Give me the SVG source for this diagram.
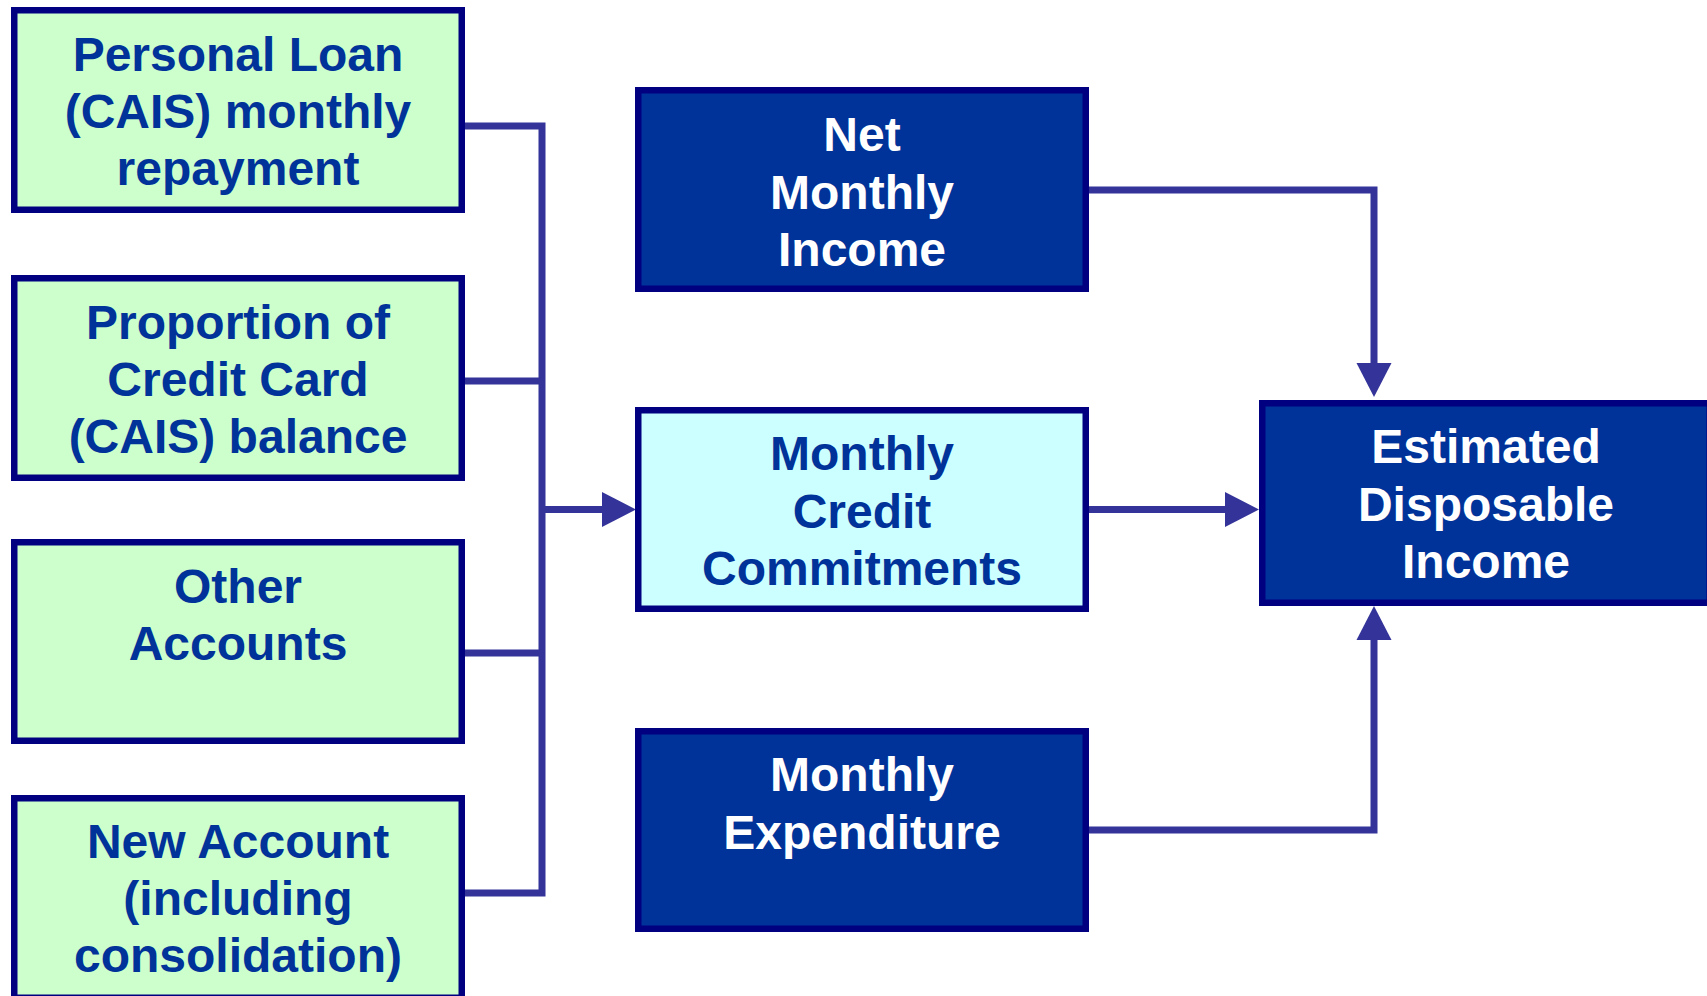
<svg xmlns="http://www.w3.org/2000/svg" width="1707" height="996" viewBox="0 0 1707 996">
  <style>
    .box { stroke: #000080; stroke-width: 6.5; }
    .src { fill: #CCFFCC; }
    .mid { fill: #CCFFFF; }
    .dark { fill: #003399; }
    .lbl { font-family: "Liberation Sans", Arial, Helvetica, sans-serif; font-weight: bold; font-size: 48px; text-anchor: middle; }
    .lbl-d { fill: #003399; }
    .lbl-w { fill: #FFFFFF; }
    .wire { fill: none; stroke: #333399; stroke-width: 7; stroke-linejoin: miter; stroke-linecap: butt; }
  </style>
  <defs>
    <marker id="head" markerUnits="userSpaceOnUse" markerWidth="36" markerHeight="36" refX="4" refY="17.5" orient="auto" overflow="visible">
      <path d="M0,0 L34,17.5 L0,35 Z" fill="#333399"/>
    </marker>
  </defs>

  <rect width="1707" height="996" fill="#FFFFFF"/>

  <!-- connectors -->
  <g id="connectors">
    <path class="wire" d="M465,126 H542 V893 H465"/>
    <path class="wire" d="M465,381 H542"/>
    <path class="wire" d="M465,653 H542"/>
    <path class="wire" d="M542,509.5 H606" marker-end="url(#head)"/>
    <path class="wire" d="M1089,190 H1374 V367" marker-end="url(#head)"/>
    <path class="wire" d="M1089,509.5 H1229" marker-end="url(#head)"/>
    <path class="wire" d="M1089,830 H1374 V636" marker-end="url(#head)"/>
  </g>

  <!-- input boxes -->
  <g id="personal-loan">
    <rect class="box src" x="14.25" y="10.25" width="447.5" height="199.5"/>
    <text class="lbl lbl-d" x="238" y="71">Personal Loan</text>
    <text class="lbl lbl-d" x="238" y="128">(CAIS) monthly</text>
    <text class="lbl lbl-d" x="238" y="185">repayment</text>
  </g>
  <g id="credit-card">
    <rect class="box src" x="14.25" y="278.25" width="447.5" height="199.5"/>
    <text class="lbl lbl-d" x="238" y="339">Proportion of</text>
    <text class="lbl lbl-d" x="238" y="396">Credit Card</text>
    <text class="lbl lbl-d" x="238" y="453">(CAIS) balance</text>
  </g>
  <g id="other-accounts">
    <rect class="box src" x="14.25" y="542.25" width="447.5" height="198.5"/>
    <text class="lbl lbl-d" x="238" y="603">Other</text>
    <text class="lbl lbl-d" x="238" y="660">Accounts</text>
  </g>
  <g id="new-account">
    <rect class="box src" x="14.25" y="798.25" width="447.5" height="199.5"/>
    <text class="lbl lbl-d" x="238" y="858">New Account</text>
    <text class="lbl lbl-d" x="238" y="915">(including</text>
    <text class="lbl lbl-d" x="238" y="972">consolidation)</text>
  </g>

  <!-- middle column -->
  <g id="net-income">
    <rect class="box dark" x="638.25" y="90.25" width="447.5" height="198.5"/>
    <text class="lbl lbl-w" x="862" y="151">Net</text>
    <text class="lbl lbl-w" x="862" y="209">Monthly</text>
    <text class="lbl lbl-w" x="862" y="266">Income</text>
  </g>
  <g id="credit-commitments">
    <rect class="box mid" x="638.25" y="410.25" width="447.5" height="198.5"/>
    <text class="lbl lbl-d" x="862" y="470">Monthly</text>
    <text class="lbl lbl-d" x="862" y="528">Credit</text>
    <text class="lbl lbl-d" x="862" y="585">Commitments</text>
  </g>
  <g id="expenditure">
    <rect class="box dark" x="638.25" y="731.25" width="447.5" height="197.5"/>
    <text class="lbl lbl-w" x="862" y="791">Monthly</text>
    <text class="lbl lbl-w" x="862" y="849">Expenditure</text>
  </g>

  <!-- result -->
  <g id="disposable-income">
    <rect class="box dark" x="1262.25" y="403.25" width="447.5" height="199.5"/>
    <text class="lbl lbl-w" x="1486" y="463">Estimated</text>
    <text class="lbl lbl-w" x="1486" y="521">Disposable</text>
    <text class="lbl lbl-w" x="1486" y="578">Income</text>
  </g>
</svg>
